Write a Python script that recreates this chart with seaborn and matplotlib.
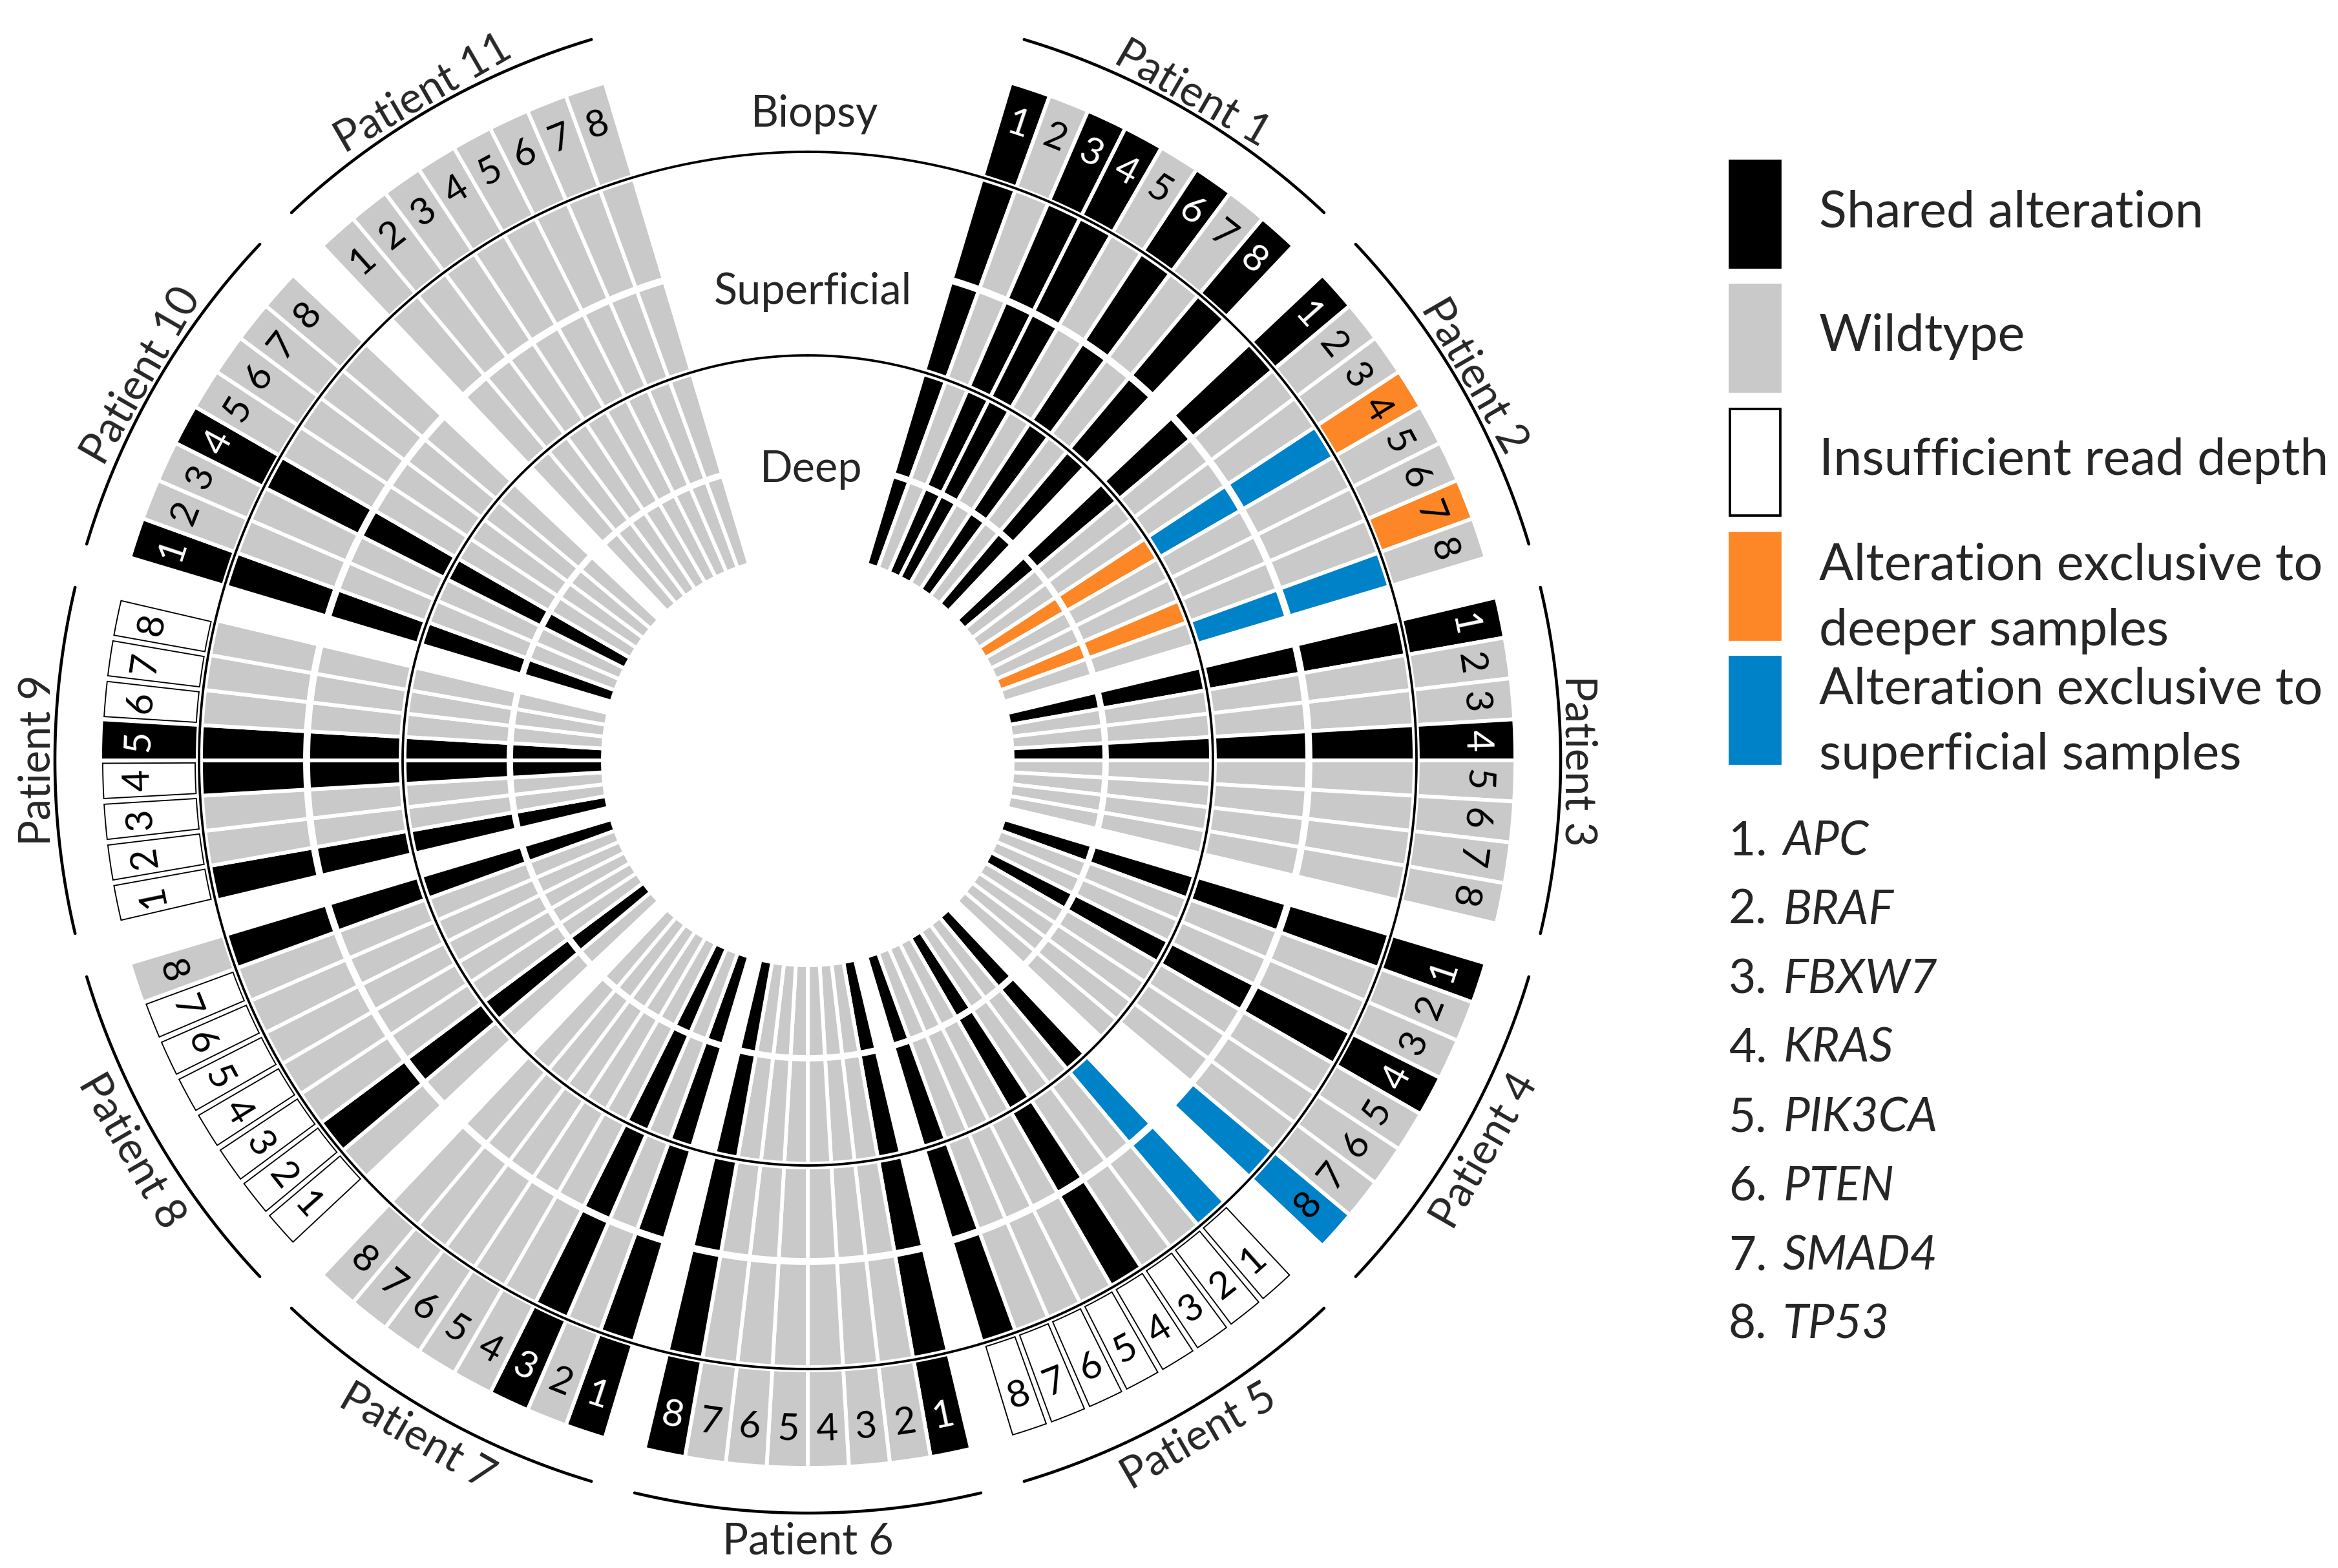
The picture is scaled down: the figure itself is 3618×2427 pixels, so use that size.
import numpy as np
import pandas as pd
import seaborn as sns
import matplotlib
matplotlib.use("Agg")
from matplotlib import pyplot as plt
from matplotlib.patches import Rectangle

genes = ["APC", "BRAF", "FBXW7", "KRAS", "PIK3CA", "PTEN", "SMAD4", "TP53"]
patients = ["Patient %d" % i for i in range(1, 12)]

# one letter per gene 1..8
# B shared alteration, G wildtype, W insufficient read depth,
# O exclusive to deeper, L exclusive to superficial, N no cell
biopsy = ["BGBBGBGB", "BGGOGGOG", "BGGBGGGG", "BGGBGGGL", "WWWWWWWW", "BGGGGGGB",
          "BGBGGGGG", "WWWWWWWG", "WWWWBWWW", "BGGBGGGG", "GGGGGGGG"]
sup_outer = ["BGBBGBGB", "BGGLGGGL", "BGGBGGGG", "BGGBGGGL", "LGGBGGGB", "BGGGGGGB",
             "BGBGGGGG", "GBGGGGGB", "BGGBBGGG", "BGGBGGGG", "GGGGGGGG"]
sup_inner = ["BGBBGBGB", "BGGLGGGL", "BGGBGGGG", "BGGBGGGN", "LGGBGGGB", "BGGGGGGB",
             "BGBGGGGG", "GBGGGGGB", "BGGBBGGG", "BGGBGGGG", "GGGGGGGG"]
deep_outer = ["BGBBGBGB", "BGGOGGOG", "BGGBGGGG", "BGGBGGGG", "BGGBGGGB", "BGGGGGGB",
              "BGBGGGGG", "GBGGGGGB", "BGGBBGGG", "BGGBGGGG", "GGGGGGGG"]
deep_inner = ["BGBBGBGB", "BGGOGGOG", "BGGBGGGG", "BGGBGGGG", "BGGBGGGB", "BGGGGGGB",
              "BGBGGGGG", "GBGGGGGB", "BGGBBGGG", "BGGBGGGG", "GGGGGGGG"]

legend_labels = ["Shared alteration", "Wildtype", "Insufficient read depth",
                 "Alteration exclusive to\ndeeper samples",
                 "Alteration exclusive to\nsuperficial samples"]
legend_codes = ["B", "G", "W", "O", "L"]

colors = {"B": "#000000", "G": "#c9c9c9", "O": "#fd8727", "L": "#0082c9", "W": "#ffffff"}

# radial bands (pixel units from the centre)
layers = {
    "biopsy": (944, 1095, biopsy),
    "sup_outer": (778, 939, sup_outer),
    "sup_inner": (630, 773, sup_inner),
    "deep_outer": (463, 624, deep_outer),
    "deep_inner": (317, 459, deep_inner),
}

SLOT = 30 / 9.0
rows = []
for name, (r0, r1, codes) in layers.items():
    for p, s in enumerate(codes):
        for g, c in enumerate(s):
            rows.append(dict(layer=name, patient=p, gene=g, status=c, r0=r0, r1=r1,
                             angle=30 * (p + 1) + (g - 3.5) * SLOT))
cells = pd.DataFrame(rows)

sns.set_theme(style="white")
plt.rcParams["font.family"] = ["Lato", "DejaVu Sans"]

W, H, DPI = 3618, 2427, 300
R = 1250
fig = plt.figure(figsize=(W / DPI, H / DPI), dpi=DPI)
ax = fig.add_axes([0, 0, 2 * R / W, 2 * R / H], projection="polar")
ax.set_theta_zero_location("N")
ax.set_theta_direction(-1)
ax.set_ylim(0, R)
ax.axis("off")

filled = cells[cells.status.isin(["B", "G", "O", "L"])]
ax.bar(np.radians(filled.angle), filled.r1 - filled.r0, width=np.radians(SLOT),
       bottom=filled.r0, color=filled.status.map(colors), edgecolor="white",
       linewidth=1.4, zorder=2)

low = cells[cells.status == "W"]
ax.bar(np.radians(low.angle), 1091 - 948, width=np.radians(SLOT * 0.86),
       bottom=948, color="white", edgecolor="black", linewidth=0.45, zorder=2)

# ring borders
full = np.linspace(0, 2 * np.pi, 1441)
for rr in (627, 942):
    ax.plot(full, np.full_like(full, rr), color="black", lw=0.9, zorder=3)


def rot_for(theta, p):
    # bottom patients read with tops toward the centre
    if 3 <= p <= 7:
        return 180 - theta
    return -theta


bio = cells[cells.layer == "biopsy"]
for _, c in bio.iterrows():
    col = "white" if c.status == "B" else "black"
    ax.text(np.radians(c.angle), 1036, str(c.gene + 1), color=col, fontsize=14,
            ha="center", va="center", rotation=rot_for(c.angle, c.patient),
            rotation_mode="anchor", zorder=4)

for p, name in enumerate(patients):
    mid = 30 * (p + 1)
    th = np.radians(np.linspace(mid - 13.3, mid + 13.3, 120))
    ax.plot(th, np.full_like(th, 1165), color="black", lw=1.1)
    if 3 <= p <= 7:
        ax.text(np.radians(mid), 1178, name, fontsize=16, ha="center", va="top",
                rotation=rot_for(mid, p), rotation_mode="anchor")
    else:
        ax.text(np.radians(mid), 1172, name, fontsize=16, ha="center", va="baseline",
                rotation=rot_for(mid, p), rotation_mode="anchor")

for label, rr in [("Biopsy", 1000), ("Superficial", 725), ("Deep", 450)]:
    ax.text(np.radians(0.6), rr, label, fontsize=16, ha="center", va="center")

# legend in pixel space
lg = fig.add_axes([0, 0, 1, 1])
lg.set_xlim(0, W)
lg.set_ylim(H, 0)
lg.axis("off")
for i, (code, text) in enumerate(zip(legend_codes, legend_labels)):
    top = 249 + i * 192
    edge = "black" if code == "W" else colors[code]
    lg.add_patch(Rectangle((2677, top), 78, 165, facecolor=colors[code],
                           edgecolor=edge, linewidth=0.9))
    lines = text.split("\n")
    if len(lines) == 1:
        lg.text(2815, top + 102, lines[0], fontsize=19, va="baseline")
    else:
        lg.text(2815, top + 72, lines[0], fontsize=19, va="baseline")
        lg.text(2815, top + 174, lines[1], fontsize=19, va="baseline")

for k, g in enumerate(genes):
    base = 1323 + k * 107
    lg.text(2675, base, "%d." % (k + 1), fontsize=17.5, va="baseline")
    lg.text(2759, base, g, fontsize=17.5, style="italic", va="baseline")

fig.savefig("out.png", dpi=DPI)
